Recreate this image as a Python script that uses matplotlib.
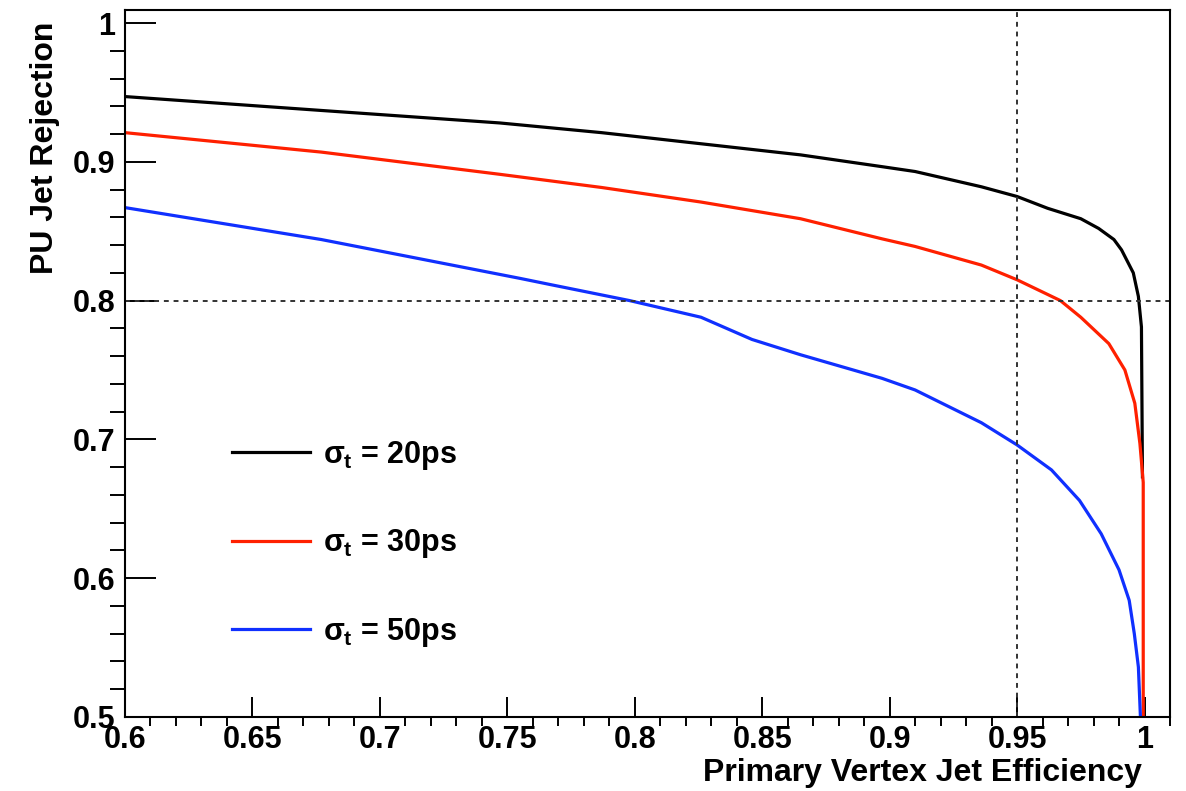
import matplotlib
matplotlib.use('Agg')
import matplotlib.pyplot as plt
from matplotlib.ticker import MultipleLocator, FuncFormatter

plt.rcParams['font.family'] = ['Liberation Sans', 'DejaVu Sans']
plt.rcParams['font.weight'] = 'bold'
plt.rcParams['mathtext.fontset'] = 'custom'
plt.rcParams['mathtext.rm'] = 'Liberation Sans'
plt.rcParams['mathtext.it'] = 'Liberation Sans'
plt.rcParams['mathtext.bf'] = 'Liberation Sans:bold'

# efficiency / rejection curves
eff_20 = [0.600, 0.677, 0.747, 0.787, 0.826, 0.865, 0.897, 0.910, 0.936,
          0.950, 0.962, 0.975, 0.982, 0.988, 0.991, 0.9956, 0.9976, 0.9988,
          0.9992]
rej_20 = [0.947, 0.937, 0.928, 0.921, 0.913, 0.905, 0.8965, 0.893, 0.882,
          0.875, 0.8665, 0.859, 0.852, 0.844, 0.8365, 0.820, 0.803, 0.781,
          0.673]

eff_30 = [0.600, 0.677, 0.747, 0.787, 0.826, 0.865, 0.897, 0.910, 0.936,
          0.950, 0.967, 0.975, 0.986, 0.9923, 0.9962, 0.9982, 0.9995, 0.9995]
rej_30 = [0.921, 0.907, 0.891, 0.8815, 0.871, 0.859, 0.8445, 0.839, 0.8256,
          0.815, 0.800, 0.788, 0.769, 0.750, 0.726, 0.697, 0.669, 0.500]

eff_50 = [0.600, 0.677, 0.755, 0.767, 0.798, 0.826, 0.846, 0.865, 0.897,
          0.910, 0.936, 0.950, 0.9635, 0.9745, 0.983, 0.990, 0.994, 0.996,
          0.9976, 0.9984]
rej_50 = [0.867, 0.844, 0.816, 0.8115, 0.800, 0.788, 0.772, 0.761, 0.744,
          0.7356, 0.712, 0.696, 0.678, 0.656, 0.632, 0.606, 0.584, 0.560,
          0.536, 0.500]

labels = [r'$\sigma_{t}$ = 20ps', r'$\sigma_{t}$ = 30ps', r'$\sigma_{t}$ = 50ps']
colors = ['black', '#ff2000', '#1030ff']

fig = plt.figure(figsize=(11.86, 7.91), dpi=100)
ax = fig.add_axes([0.1054, 0.0936, 0.8811, 0.8938])

for e, r, c, l in zip([eff_20, eff_30, eff_50], [rej_20, rej_30, rej_50], colors, labels):
    ax.plot(e, r, color=c, lw=2.3, label=l)

ax.axvline(0.95, color='#333333', lw=1.4, ls=(0, (2.5, 2.5)))
ax.axhline(0.8, color='#333333', lw=1.4, ls=(0, (2.5, 2.5)))

ax.set_xlim(0.6, 1.01)
ax.set_ylim(0.5, 1.0094)

ax.xaxis.set_major_locator(MultipleLocator(0.05))
ax.xaxis.set_minor_locator(MultipleLocator(0.01))
ax.yaxis.set_major_locator(MultipleLocator(0.1))
ax.yaxis.set_minor_locator(MultipleLocator(0.02))
fmt = FuncFormatter(lambda v, p: '%g' % round(v, 3))
ax.xaxis.set_major_formatter(fmt)
ax.yaxis.set_major_formatter(fmt)

ax.tick_params(direction='in', labelsize=22, width=1.4, top=False, right=False)
ax.tick_params(axis='x', which='major', length=14.4, pad=6)
ax.tick_params(axis='x', which='minor', length=6.8, width=1.4)
ax.tick_params(axis='y', which='major', length=22.3, pad=7)
ax.tick_params(axis='y', which='minor', length=10.8, width=1.4)
for s in ax.spines.values():
    s.set_linewidth(1.5)

ax.set_xlabel('Primary Vertex Jet Efficiency', fontsize=23, fontweight='bold', loc='right')
ax.set_ylabel('PU Jet Rejection', fontsize=23, fontweight='bold', loc='top')
ax.xaxis.set_label_coords(0.973, -0.058)
ax.yaxis.set_label_coords(-0.062, 0.983)

ax.legend(loc='upper left', bbox_to_anchor=(0.1024, 0.393), frameon=False,
          fontsize=22, handlelength=2.55, handletextpad=0.42, labelspacing=1.81,
          borderpad=0, borderaxespad=0)

fig.savefig('out.png', dpi=100)
